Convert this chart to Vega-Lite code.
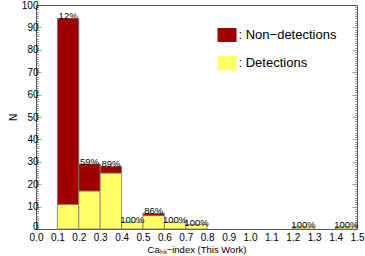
{
  "$schema": "https://vega.github.io/schema/vega-lite/v6.json",
  "width": 321,
  "height": 224,
  "autosize": {"type": "none"},
  "padding": {"left": 36, "top": 5, "right": 8, "bottom": 27},
  "config": {
    "font": "Liberation Sans",
    "view": {"stroke": "#555555", "strokeWidth": 1},
    "axis": {
      "domainColor": "#555555",
      "tickColor": "#555555",
      "labelColor": "#000000",
      "titleColor": "#000000",
      "grid": false,
      "labelFontSize": 10,
      "titleFontSize": 10,
      "titleFontWeight": "normal",
      "labelOverlap": false,
      "labelFlush": false,
      "labelBound": false
    }
  },
  "datasets": {
    "bars": [
      {"lo": 0.1, "hi": 0.2, "cat": "Detections", "n": 11},
      {"lo": 0.1, "hi": 0.2, "cat": "Non−detections", "n": 83},
      {"lo": 0.2, "hi": 0.3, "cat": "Detections", "n": 17},
      {"lo": 0.2, "hi": 0.3, "cat": "Non−detections", "n": 12},
      {"lo": 0.3, "hi": 0.4, "cat": "Detections", "n": 25},
      {"lo": 0.3, "hi": 0.4, "cat": "Non−detections", "n": 3},
      {"lo": 0.4, "hi": 0.5, "cat": "Detections", "n": 3},
      {"lo": 0.5, "hi": 0.6, "cat": "Detections", "n": 6},
      {"lo": 0.5, "hi": 0.6, "cat": "Non−detections", "n": 1},
      {"lo": 0.6, "hi": 0.7, "cat": "Detections", "n": 3},
      {"lo": 0.7, "hi": 0.8, "cat": "Detections", "n": 2},
      {"lo": 1.2, "hi": 1.3, "cat": "Detections", "n": 1},
      {"lo": 1.4, "hi": 1.5, "cat": "Detections", "n": 1}
    ],
    "labels": [
      {"mid": 0.15, "total": 94, "pct": "12%"},
      {"mid": 0.25, "total": 29, "pct": "59%"},
      {"mid": 0.35, "total": 28, "pct": "89%"},
      {"mid": 0.45, "total": 3, "pct": "100%"},
      {"mid": 0.55, "total": 7, "pct": "86%"},
      {"mid": 0.65, "total": 3, "pct": "100%"},
      {"mid": 0.75, "total": 2, "pct": "100%"},
      {"mid": 1.25, "total": 1, "pct": "100%"},
      {"mid": 1.45, "total": 1, "pct": "100%"}
    ]
  },
  "layer": [
    {
      "data": {"name": "bars"},
      "transform": [
        {"stack": "n", "groupby": ["lo"], "sort": [{"field": "cat", "order": "ascending"}], "as": ["y0", "y1"]}
      ],
      "mark": {"type": "rect", "stroke": "#777777", "strokeWidth": 0.8},
      "encoding": {
        "x": {
          "field": "lo",
          "type": "quantitative",
          "scale": {"domain": [0, 1.5], "nice": false, "zero": false},
          "axis": {
            "values": [0, 0.1, 0.2, 0.3, 0.4, 0.5, 0.6, 0.7, 0.8, 0.9, 1.0, 1.1, 1.2, 1.3, 1.4, 1.5],
            "format": ".1f",
            "ticks": false,
            "domain": false,
            "labelOverlap": false,
            "labelPadding": 3,
            "title": "Caₕₖ−index (This Work)",
            "titleFontSize": 9.5,
            "titlePadding": 2
          }
        },
        "x2": {"field": "hi"},
        "y": {
          "field": "y0",
          "type": "quantitative",
          "scale": {"domain": [0, 100], "nice": false},
          "axis": {
            "orient": "left",
            "values": [0,1,2,3,4,5,6,7,8,9,10,11,12,13,14,15,16,17,18,19,20,21,22,23,24,25,26,27,28,29,30,31,32,33,34,35,36,37,38,39,40,41,42,43,44,45,46,47,48,49,50,51,52,53,54,55,56,57,58,59,60,61,62,63,64,65,66,67,68,69,70,71,72,73,74,75,76,77,78,79,80,81,82,83,84,85,86,87,88,89,90,91,92,93,94,95,96,97,98,99,100],
            "labelExpr": "datum.value % 10 === 0 ? datum.label : ''",
            "labelOverlap": false,
            "labelOffset": {"condition": {"test": "datum.value === 0", "value": -3}, "value": 0},
            "tickSize": {"condition": {"test": "datum.value % 10 === 0", "value": -5}, "value": -2.5},
            "tickWidth": 0.6,
            "domain": false,
            "labelPadding": 3,
            "title": "N",
            "titlePadding": 3
          }
        },
        "y2": {"field": "y1"},
        "color": {
          "field": "cat",
          "type": "nominal",
          "scale": {"domain": ["Non−detections", "Detections"], "range": ["#A00000", "#FFFF66"]},
          "legend": {
            "title": null,
            "orient": "none",
            "legendX": 184,
            "legendY": 23,
            "padding": 0,
            "symbolType": "M-1.357,-1L1.357,-1L1.357,1L-1.357,1Z",
            "symbolSize": 196,
            "symbolStrokeWidth": 0,
            "labelFontSize": 13,
            "labelOffset": 4.5,
            "rowPadding": 14,
            "labelExpr": "': ' + datum.label"
          }
        }
      }
    },
    {
      "data": {"name": "labels"},
      "mark": {"type": "text", "baseline": "alphabetic", "dy": 1, "fontSize": 9.5, "color": "#000000"},
      "encoding": {
        "x": {
          "field": "mid",
          "type": "quantitative",
          "axis": {
            "values": [0, 0.1, 0.2, 0.3, 0.4, 0.5, 0.6, 0.7, 0.8, 0.9, 1.0, 1.1, 1.2, 1.3, 1.4, 1.5],
            "format": ".1f",
            "ticks": false,
            "domain": false,
            "labelOverlap": false,
            "labelPadding": 3,
            "title": "Caₕₖ−index (This Work)",
            "titleFontSize": 9.5,
            "titlePadding": 2
          }
        },
        "y": {
          "field": "total",
          "type": "quantitative",
          "axis": {
            "orient": "right",
            "values": [0,1,2,3,4,5,6,7,8,9,10,11,12,13,14,15,16,17,18,19,20,21,22,23,24,25,26,27,28,29,30,31,32,33,34,35,36,37,38,39,40,41,42,43,44,45,46,47,48,49,50,51,52,53,54,55,56,57,58,59,60,61,62,63,64,65,66,67,68,69,70,71,72,73,74,75,76,77,78,79,80,81,82,83,84,85,86,87,88,89,90,91,92,93,94,95,96,97,98,99,100],
            "labels": false,
            "tickSize": {"condition": {"test": "datum.value % 10 === 0", "value": -5}, "value": -2.5},
            "tickWidth": 0.6,
            "domain": false,
            "title": null
          }
        },
        "text": {"field": "pct"}
      }
    }
  ],
  "resolve": {"axis": {"y": "independent"}}
}
